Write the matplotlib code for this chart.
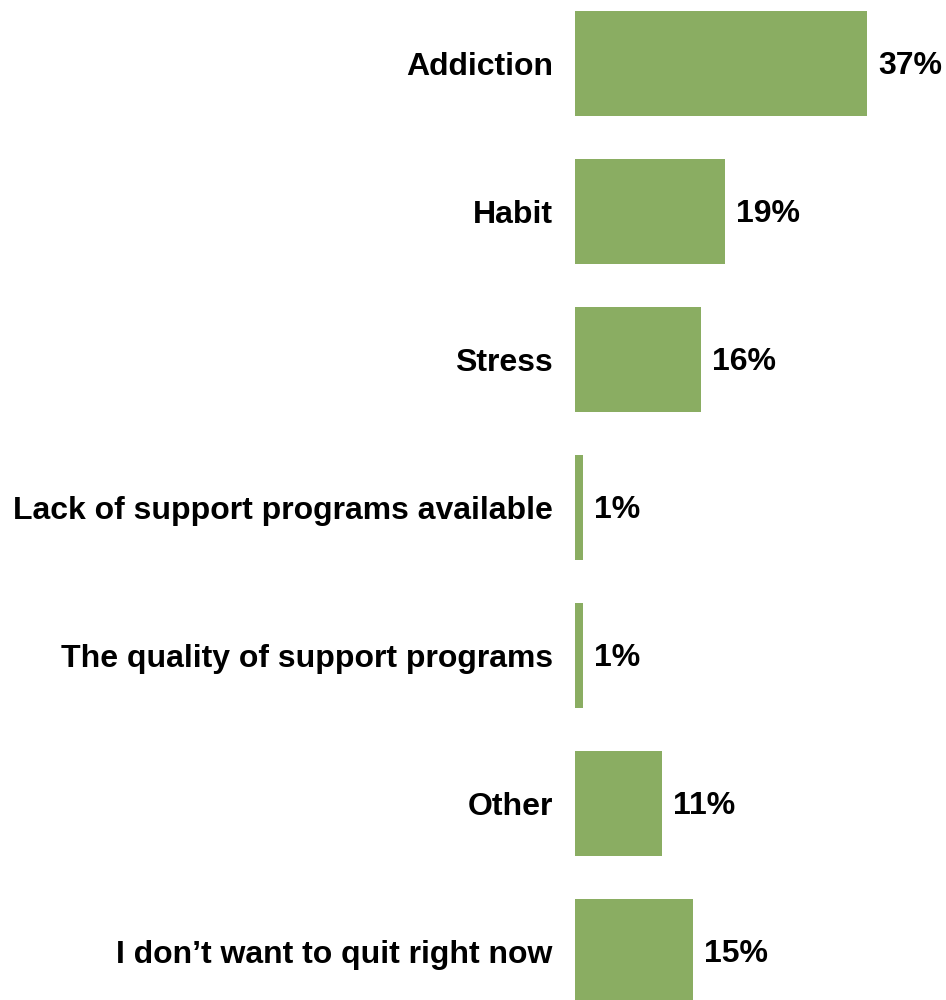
import matplotlib
matplotlib.use('Agg')
import matplotlib.pyplot as plt

# Survey results
reasons = ['Addiction', 'Habit', 'Stress', 'Lack of support programs available',
           'The quality of support programs', 'Other', 'I don\u2019t want to quit right now']
shares = [37, 19, 16, 1, 1, 11, 15]

plt.rcParams['font.family'] = ['Liberation Sans', 'DejaVu Sans']

fig = plt.figure(figsize=(9.46, 10), dpi=100)
ax = fig.add_axes([575 / 946, 0, 1 - 575 / 946, 1])

ypos = list(range(len(reasons)))
ax.barh(ypos, shares, height=0.71, color='#8aad62')
ax.set_xlim(0, 371 / 7.89)
ax.set_ylim(1000 / 148 - 63.5 / 148, -63.5 / 148)

for y, v in zip(ypos, shares):
    ax.annotate(f'{v}%', (v, y), xytext=(8, -2), textcoords='offset points',
                va='center', ha='left', fontsize=23, fontweight='bold')

ax.set_yticks(ypos)
ax.set_yticklabels(reasons, fontsize=23, fontweight='bold')
ax.tick_params(axis='y', length=0, pad=16)
ax.set_xticks([])
for s in ax.spines.values():
    s.set_visible(False)

fig.savefig('out.png', dpi=100)
